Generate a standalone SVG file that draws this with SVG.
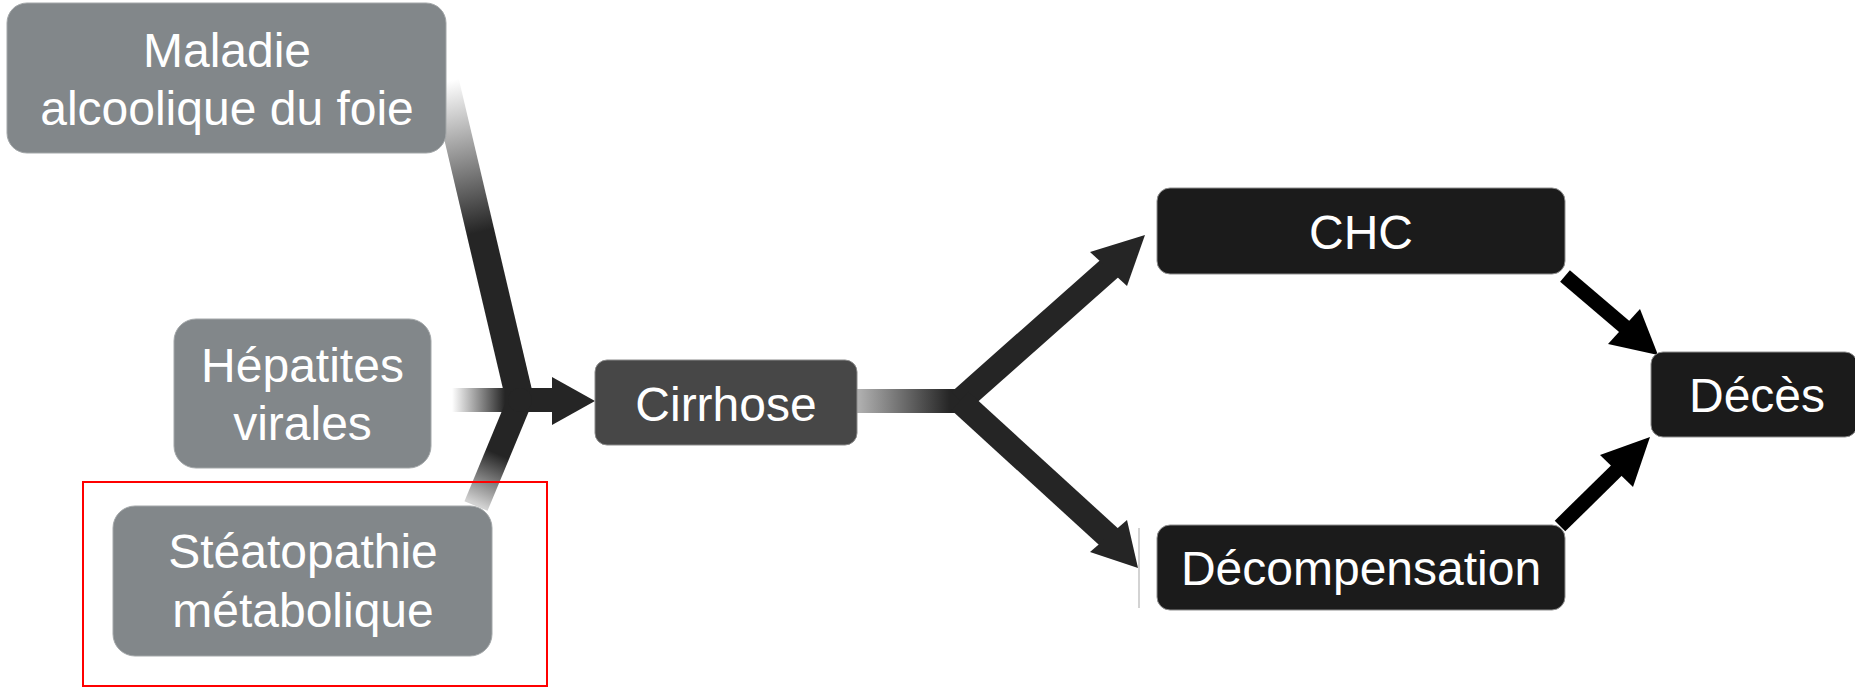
<svg xmlns="http://www.w3.org/2000/svg" width="1855" height="687" viewBox="0 0 1855 687">
<style>
.lbl{font-family:"Liberation Sans",Arial,sans-serif;font-size:48px;fill:#ffffff;text-anchor:middle}
.gray{fill:#82878a;stroke:#a3a7a9;stroke-width:1}
.mid{fill:#474747;stroke:#8a8a8a;stroke-width:1}
.dark{fill:#1b1b1b;stroke:#8e8e8e;stroke-width:1}
.shaft{fill:none;stroke-linecap:butt}
.solid{stroke:#252525}
.head{fill:#252525}
.bshaft{fill:none;stroke:#000;stroke-width:15}
.bhead{fill:#000}
</style>
<defs>
<linearGradient id="gMal" gradientUnits="userSpaceOnUse" x1="445" y1="82" x2="480" y2="232"><stop offset="0" stop-color="#ffffff"/><stop offset="1" stop-color="#252525"/></linearGradient>
<linearGradient id="gHep" gradientUnits="userSpaceOnUse" x1="452" y1="0" x2="505" y2="0"><stop offset="0" stop-color="#ffffff"/><stop offset="1" stop-color="#252525"/></linearGradient>
<linearGradient id="gSte" gradientUnits="userSpaceOnUse" x1="478" y1="505" x2="500" y2="455"><stop offset="0" stop-color="#d2d2d2"/><stop offset="1" stop-color="#252525"/></linearGradient>
<linearGradient id="gCir" gradientUnits="userSpaceOnUse" x1="856" y1="0" x2="950" y2="0"><stop offset="0" stop-color="#b4b4b4"/><stop offset="1" stop-color="#252525"/></linearGradient>
</defs>
<rect width="1855" height="687" fill="#ffffff"/>
<g id="connectors">
<line class="shaft" x1="443" y1="73" x2="520" y2="400" stroke="url(#gMal)" stroke-width="28"/>
<line class="shaft" x1="452" y1="400" x2="554" y2="400" stroke="url(#gHep)" stroke-width="24"/>
<line class="shaft" x1="520" y1="400" x2="476" y2="506" stroke="url(#gSte)" stroke-width="25"/>
<circle cx="520" cy="400" r="12" fill="#252525"/>
<polygon class="head" points="552,377 595,401 552,425"/>
<line class="shaft" x1="856" y1="401" x2="966" y2="401" stroke="url(#gCir)" stroke-width="24"/>
<line class="shaft solid" x1="960" y1="401" x2="1110" y2="268" stroke-width="25"/>
<line class="shaft solid" x1="960" y1="401" x2="1110" y2="538" stroke-width="25"/>
<polygon class="head" points="1090,252 1145,235 1127,286"/>
<polygon class="head" points="1127,520 1138,568 1090,552"/>
<line class="bshaft" x1="1565" y1="276" x2="1626" y2="328"/>
<polygon class="bhead" points="1608,344 1658,355 1640,309"/>
<line class="bshaft" x1="1560" y1="526" x2="1618" y2="469"/>
<polygon class="bhead" points="1600,455 1650,437 1633,487"/>
<line x1="1139" y1="528" x2="1139" y2="608" stroke="#c4c4c4" stroke-width="1.5"/>
</g>
<g id="n-maladie">
<rect class="gray" x="7" y="3" width="439" height="150" rx="20"/>
<text class="lbl" x="227" y="67">Maladie</text>
<text class="lbl" x="227" y="125">alcoolique du foie</text>
</g>
<g id="n-hepatites">
<rect class="gray" x="174" y="319" width="257" height="149" rx="22"/>
<text class="lbl" x="302.5" y="382">Hépatites</text>
<text class="lbl" x="302.5" y="440">virales</text>
</g>
<g id="n-steato">
<rect class="gray" x="113" y="506" width="379" height="150" rx="22"/>
<text class="lbl" x="303" y="568">Stéatopathie</text>
<text class="lbl" x="303" y="627">métabolique</text>
</g>
<rect id="highlight" x="83" y="482" width="464" height="204" fill="none" stroke="#ff0000" stroke-width="2"/>
<g id="n-cirrhose">
<rect class="mid" x="595" y="360" width="262" height="85" rx="12"/>
<text class="lbl" x="726" y="421">Cirrhose</text>
</g>
<g id="n-chc">
<rect class="dark" x="1157" y="188" width="408" height="86" rx="13"/>
<text class="lbl" x="1361" y="249">CHC</text>
</g>
<g id="n-decomp">
<rect class="dark" x="1157" y="525" width="408" height="85" rx="13"/>
<text class="lbl" x="1361" y="585">Décompensation</text>
</g>
<g id="n-deces">
<rect class="dark" x="1651" y="352" width="206" height="85" rx="12"/>
<text class="lbl" x="1757" y="412">Décès</text>
</g>
</svg>
